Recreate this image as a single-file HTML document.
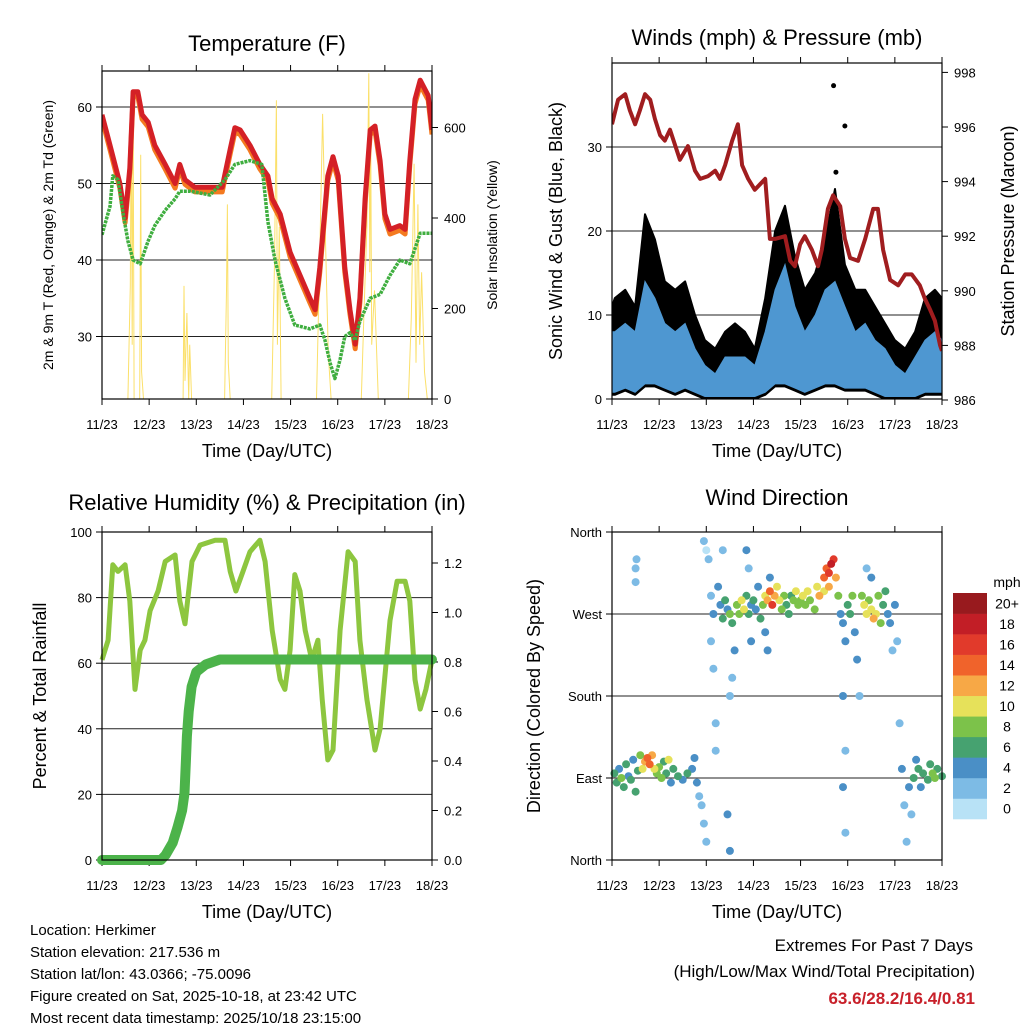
<!DOCTYPE html>
<html><head><meta charset="utf-8"><style>
body{margin:0;background:#fff}
svg{display:block;font-family:"Liberation Sans",sans-serif}
</style></head><body>
<svg id="s" width="1024" height="1024" viewBox="0 0 1024 1024" xmlns="http://www.w3.org/2000/svg">
<rect width="1024" height="1024" fill="#fff"/>
<g id="g"></g>
<g font-size="15" fill="#000">
<text x="30" y="935">Location: Herkimer</text>
<text x="30" y="957">Station elevation: 217.536 m</text>
<text x="30" y="979">Station lat/lon: 43.0366; -75.0096</text>
<text x="30" y="1001">Figure created on Sat, 2025-10-18, at 23:42 UTC</text>
<text x="30" y="1023">Most recent data timestamp: 2025/10/18 23:15:00</text>
</g>
<g font-size="17" text-anchor="end">
<text x="973" y="951">Extremes For Past 7 Days</text>
<text x="975" y="977">(High/Low/Max Wind/Total Precipitation)</text>
<text x="975" y="1004" fill="#c8202a" font-weight="bold">63.6/28.2/16.4/0.81</text>
</g>
</svg>
<script>
// ---- data ----
const dayLabels=["11/23","12/23","13/23","14/23","15/23","16/23","17/23","18/23"];
const tempT=[0,.17,.38,.49,.59,.66,.76,.85,.98,1.12,1.34,1.55,1.65,1.76,1.97,2.29,2.55,2.72,2.82,2.93,3.14,3.35,3.52,3.61,3.78,3.99,4.2,4.41,4.52,4.62,4.79,4.9,5.01,5.15,5.26,5.37,5.47,5.58,5.69,5.79,5.9,6.0,6.11,6.32,6.43,6.53,6.64,6.75,6.92,7.0];
const tempV=[59,55,50,45.5,52,62,62,59,58,55,52.5,50,52.5,50.5,49.5,49.5,49.5,54.5,57.3,57,55,52.5,51,48,46,41,38,35,33.5,39,51,53.5,51,39,33.5,29,35,48,57,57.5,53,46,44,44.5,44,53,61,63.5,61.5,57];
const dewT=[0,.17,.23,.34,.45,.55,.66,.81,.98,1.12,1.34,1.55,1.65,1.87,2.29,2.61,2.82,3.14,3.39,3.52,3.67,3.88,4.09,4.41,4.62,4.73,4.84,4.94,5.05,5.15,5.26,5.37,5.47,5.69,5.9,6.11,6.32,6.53,6.75,7.0];
const dewV=[43.3,47,51,50.5,46,42.5,40,39.5,42.5,44.5,46.5,48,49,49,48.5,50.5,52.5,53,52.5,45,40,35,31.5,31,31.5,29.5,26.5,24.5,27,30,30.5,29.5,32,35,35.5,38,40,39.5,43.5,43.5];
const solT=[0.55,0.6,0.62,0.64,0.66,0.68,0.72,0.8,0.82,0.84,0.88,1.72,1.74,1.76,1.8,1.84,1.86,1.9,2.6,2.64,2.66,2.68,2.72,3.6,3.66,3.7,3.72,3.76,3.8,4.55,4.62,4.68,4.74,4.8,4.86,5.5,5.56,5.62,5.66,5.68,5.7,5.72,5.78,5.86,6.5,6.56,6.62,6.66,6.7,6.74,6.78,6.84,6.9];
const solV=[0,250,640,120,680,0,0,0,540,60,0,0,250,40,190,0,120,0,0,240,430,80,0,0,300,660,120,380,0,0,320,630,350,100,0,0,200,380,720,280,600,120,240,0,0,180,520,80,430,120,280,60,0];
const presT=[0,.13,.28,.38,.49,.59,.7,.81,.91,1.02,1.12,1.23,1.44,1.61,1.76,1.87,2.04,2.19,2.29,2.4,2.55,2.67,2.76,2.89,3.03,3.25,3.35,3.46,3.67,3.78,3.88,3.99,4.09,4.24,4.37,4.45,4.58,4.69,4.84,4.94,5.05,5.22,5.37,5.54,5.64,5.75,5.9,6.07,6.22,6.36,6.53,6.64,6.75,6.85,6.96,7.0];
const presV=[996.1,997,997.2,996.6,996.1,996.6,997.2,997,996.3,995.7,995.5,995.9,994.8,995.3,994.4,994.1,994.2,994.4,994.1,994.6,995.5,996.1,994.6,994.1,993.7,994.1,991.9,991.9,992,991.1,990.9,991.7,992,991.5,990.9,991.5,993,993.5,993.1,991.9,991.2,991.1,991.9,993,993,991.5,990.4,990.2,990.6,990.6,990.2,989.7,989.3,988.9,988,987.8];
const windT=[0,.06,.28,.49,.7,.91,1.12,1.34,1.55,1.76,1.97,2.19,2.4,2.61,2.82,3.03,3.25,3.46,3.67,3.88,4.09,4.31,4.52,4.73,4.94,5.16,5.37,5.58,5.79,6.0,6.22,6.43,6.64,6.85,7.0];
const windLo=[0.5,0.5,1,0.5,1.5,1.5,1,0.5,1,0.5,0,0,0,0,0,0,0.5,1.5,1.5,1,0.5,1,1.5,1.5,1,1,1,0.5,0,0,0,0,0.5,0.5,0.5];
const windHi=[8,8,9,8,14,12,9,8,9,6,4,3,5,5,5,4,8,13,16,11,8,10,13,14,11,8,9,7,6,4,3,5,7,8,7];
const gustHi=[11,12,13,11,22,19,14,13,14,10,7,6,8,9,8,6,12,20,23,17,13,15,19,25,16,13,13,11,9,7,6,8,12,13,12];
const gustOutT=[4.7,4.94,4.75];
const gustOutV=[37.3,32.5,27];
const rhT=[0,.13,.23,.34,.49,.59,.7,.81,.91,1.02,1.19,1.34,1.55,1.65,1.76,1.91,2.08,2.4,2.61,2.72,2.84,2.99,3.14,3.35,3.46,3.61,3.78,3.88,3.99,4.09,4.2,4.31,4.45,4.58,4.67,4.79,4.9,5.05,5.22,5.37,5.47,5.62,5.79,5.9,6.11,6.26,6.43,6.53,6.64,6.75,6.87,7.0];
const rhV=[61,67,90,88,90,79,52,64,67,76,82,91,93,79,72,91,96,97.5,97.5,88,82,88,94,97.5,91,70,55,52,64,87,82,70,61,67,49,30.5,33.5,70,94,91,67,49,33.5,40,73,85,85,79,55,46,52,61];
const prT=[0,1.25,1.35,1.5,1.6,1.7,1.75,1.78,1.8,1.84,1.9,2.0,2.2,2.5,7.0];
const prV=[0,0,0.02,0.07,0.13,0.2,0.27,0.4,0.5,0.6,0.7,0.76,0.79,0.81,0.81];
const dirT=[0.05,0.1,0.15,0.2,0.25,0.3,0.35,0.4,0.45,0.5,0.55,0.6,0.65,0.7,0.75,0.8,0.85,0.9,0.95,1.0,1.05,1.1,1.15,1.2,1.25,1.3,1.4,1.5,1.6,1.7,1.75,1.8,1.85,1.9,1.95,2.0,0.5,0.5,0.52,
1.95,2.0,2.05,2.1,2.15,2.1,2.15,2.2,2.2,2.25,2.3,2.35,2.4,2.45,2.5,2.55,2.5,2.55,2.6,2.65,2.7,2.75,2.8,2.85,2.9,2.95,2.35,2.45,2.5,2.85,2.9,2.95,
3.0,3.05,3.1,3.15,3.2,3.25,3.3,3.35,3.4,3.45,3.5,3.55,3.6,3.65,3.7,3.75,3.8,3.85,3.9,3.95,3.25,3.3,3.35,
4.0,4.05,4.1,4.15,4.2,4.3,4.35,4.4,4.5,4.55,4.6,4.65,4.7,4.75,4.5,4.6,4.8,4.85,4.9,4.95,4.9,4.95,4.9,4.95,
5.0,5.05,5.1,5.15,5.2,5.25,5.3,5.35,5.4,5.45,5.5,5.55,5.6,5.65,5.7,5.75,5.8,5.85,5.9,5.95,5.5,5.4,
6.0,6.05,6.1,6.15,6.2,6.25,6.3,6.4,6.5,6.6,6.7,6.8,6.9,7.0,6.45,6.55,6.35,6.75,6.85];
const dirV=[95,85,100,90,80,105,92,88,110,75,98,115,100,108,112,105,115,100,95,102,90,108,95,110,85,100,92,88,95,100,112,85,70,60,40,20,320,305,330,
350,340,330,290,270,240,210,150,120,300,280,265,285,275,270,260,180,200,230,280,270,285,275,290,270,280,340,50,10,340,320,240,
285,275,300,265,280,290,285,295,280,290,300,285,275,290,280,270,290,285,295,280,250,230,310,
285,290,280,295,285,275,300,290,310,320,315,325,330,310,295,300,290,270,260,240,180,120,80,30,
280,270,290,250,220,180,290,280,270,285,275,265,270,290,260,280,295,270,260,230,310,320,
280,240,150,100,60,20,80,90,100,95,88,95,100,92,110,80,50,105,90];
const dirS=[5,6,4,7,5,6,3,5,4,6,5,7,9,12,14,13,11,10,8,7,7,6,5,9,4,5,6,4,5,3,4,3,1,1,2,1,1,1,1,
1,0,1,2,3,1,1,2,1,4,3,5,6,4,7,5,2,2,3,8,7,10,9,6,5,4,2,3,4,3,2,3,
5,4,3,6,8,10,12,14,15,12,10,9,8,7,6,5,6,8,10,7,4,3,3,
8,9,7,10,8,7,9,11,13,14,16,17,15,12,10,12,8,4,3,4,3,2,3,2,
6,5,7,4,3,2,8,9,10,8,10,12,9,7,8,6,5,4,3,2,3,2,
3,2,2,3,2,1,4,5,6,5,6,7,6,5,4,3,2,6,7];
const cbLabels=["0","2","4","6","8","10","12","14","16","18","20+"];
const cbColors=["#b8e2f6","#7dbbe5","#4a8fc6","#46a270","#7cc24a","#e6e15a","#f7a846","#f0632b","#e13a2b","#c21e26","#981a1e"];

// ---- drawing ----
const NS="http://www.w3.org/2000/svg",G=document.getElementById("g");
function el(tag,attrs,parent,txt){const e=document.createElementNS(NS,tag);for(const k in attrs)e.setAttribute(k,attrs[k]);if(txt!==undefined)e.textContent=txt;(parent||G).appendChild(e);return e;}
function grp(name){const g=el("g",{});


return g;}
function pts(T,V,fx,fy){return T.map((t,i)=>fx(t).toFixed(1)+","+fy(V[i]).toFixed(1)).join(" ");}

function panel(o){
  const g=grp(o.name);
  const fx=d=>o.x0+d*(o.x1-o.x0)/7;
  o.grid.forEach(v=>{const y=o.yL(v);el("line",{x1:o.x0,x2:o.x1,y1:y,y2:y,stroke:"#222","stroke-width":1},g);});
  dayLabels.forEach((l,i)=>{const x=fx(i);
    el("line",{x1:x,x2:x,y1:o.y1,y2:o.y1+6,stroke:"#000"},g);
    el("line",{x1:x,x2:x,y1:o.y0,y2:o.y0-6,stroke:"#000"},g);
    const t=el("text",{x:x,y:o.y1+30,"font-size":13,"text-anchor":"middle"},g,l);
    
    
  });
  o.lt.forEach((v,i)=>{const y=o.yL(v);el("line",{x1:o.x0-6,x2:o.x0,y1:y,y2:y,stroke:"#000"},g);
    el("text",{x:o.x0-10,y:y+5,"font-size":13,"text-anchor":"end"},g,o.ll?o.ll[i]:String(v));});
  if(o.rt)o.rt.forEach(v=>{const y=o.yR(v);el("line",{x1:o.x1,x2:o.x1+6,y1:y,y2:y,stroke:"#000"},g);
    el("text",{x:o.x1+12,y:y+5,"font-size":13},g,o.rf?o.rf(v):String(v));});
  const tt=el("text",{x:(o.x0+o.x1)/2,y:o.ty,"font-size":22,"text-anchor":"middle"},g,o.title);
  
  
  const xt=el("text",{x:(o.x0+o.x1)/2,y:o.y1+58,"font-size":18,"text-anchor":"middle"},g,"Time (Day/UTC)");
  
  
  const cy=(o.y0+o.y1)/2;
  const yt=el("text",{x:o.lx,y:cy,"font-size":o.lfs,"text-anchor":"middle",transform:`rotate(-90 ${o.lx} ${cy})`},g,o.ltitle);
  
  
  if(o.rtitle){const rt=el("text",{x:o.rx,y:cy,"font-size":o.rfs,"text-anchor":"middle",transform:`rotate(-90 ${o.rx} ${cy})`},g,o.rtitle);
    
    }
  const plot=el("g",{},g);
  o.draw(plot,fx);
  el("rect",{x:o.x0,y:o.y0,width:o.x1-o.x0,height:o.y1-o.y0,fill:"none",stroke:"#000","stroke-width":1.2},g);
}

// Temperature
const yT=v=>107+(60-v)*7.65, yS=w=>399-w*0.4525;
panel({name:"temperature-panel",x0:102,x1:432,y0:71,y1:399,yL:yT,yR:yS,grid:[30,40,50,60],lt:[30,40,50,60],rt:[0,200,400,600],
 title:"Temperature (F)",ty:51,lx:53,lfs:14,ltitle:"2m & 9m T (Red, Orange) & 2m Td (Green)",rx:497,rfs:14,rtitle:"Solar Insolation (Yellow)",
 draw:(p,fx)=>{
  const cp=el("clipPath",{id:"c1"},p);el("rect",{x:102,y:71,width:330,height:328},cp);
  const q=el("g",{"clip-path":"url(#c1)"},p);
  const s=el("polyline",{points:pts(solT,solV,fx,yS),fill:"none",stroke:"#fbe06a","stroke-width":1},q);
  
  const o9=el("polyline",{points:pts(tempT,tempV.map(v=>v-0.6),fx,yT),fill:"none",stroke:"#f47a20","stroke-width":5,"stroke-linejoin":"round"},q);
  
  const r=el("polyline",{points:pts(tempT,tempV,fx,yT),fill:"none",stroke:"#d42026","stroke-width":5,"stroke-linejoin":"round"},q);
  
  const d=el("polyline",{points:pts(dewT,dewV,fx,yT),fill:"none",stroke:"#3fae3f","stroke-width":3.5,"stroke-dasharray":"3 1","stroke-linejoin":"round"},q);
  
 }});

// Winds
const yW=v=>399-v*8.4, yP=p=>400-(p-986)*27.3;
panel({name:"winds-panel",x0:612,x1:942,y0:63,y1:399,yL:yW,yR:yP,grid:[10,20,30],lt:[0,10,20,30],rt:[986,988,990,992,994,996,998],
 title:"Winds (mph) & Pressure (mb)",ty:45,lx:562,lfs:18,ltitle:"Sonic Wind & Gust (Blue, Black)",rx:1014,rfs:18,rtitle:"Station Pressure (Maroon)",
 draw:(p,fx)=>{
  const cp=el("clipPath",{id:"c2"},p);el("rect",{x:612,y:63,width:330,height:336},cp);
  const q=el("g",{"clip-path":"url(#c2)"},p);
  const band=(lo,hi)=>windT.map((t,i)=>fx(t).toFixed(1)+","+yW(hi[i]).toFixed(1)).join(" ")+" "+windT.slice().reverse().map((t,j)=>{const i=windT.length-1-j;return fx(t).toFixed(1)+","+yW(lo[i]).toFixed(1);}).join(" ");
  const gb=el("polygon",{points:band(windLo,gustHi),fill:"#000",stroke:"#000","stroke-width":2,"stroke-linejoin":"round"},q);
  
  const wb=el("polygon",{points:band(windLo.map(v=>v+0.3),windHi),fill:"#4e97d1",stroke:"#4e97d1","stroke-width":1},q);
  
  gustOutT.forEach((t,i)=>{const c=el("circle",{cx:fx(t),cy:yW(gustOutV[i]),r:2.5,fill:"#000"},q);
    });
  const pl=el("polyline",{points:pts(presT,presV,fx,yP),fill:"none",stroke:"#a01d1f","stroke-width":4,"stroke-linejoin":"round"},q);
  
 }});

// RH
const yR=v=>860-v*3.28, yPr=v=>860-v*247.5;
panel({name:"humidity-panel",x0:102,x1:432,y0:532,y1:860,yL:yR,yR:yPr,grid:[20,40,60,80],lt:[0,20,40,60,80,100],rt:[0,0.2,0.4,0.6,0.8,1.0,1.2],rf:v=>v.toFixed(1),
 title:"Relative Humidity (%) & Precipitation (in)",ty:510,lx:46,lfs:18,ltitle:"Percent & Total Rainfall",
 draw:(p,fx)=>{
  const rh=el("polyline",{points:pts(rhT,rhV,fx,yR),fill:"none",stroke:"#8dc63f","stroke-width":5,"stroke-linejoin":"round"},p);
  
  const pr=el("polyline",{points:pts(prT,prV,fx,yPr),fill:"none",stroke:"#4cb34a","stroke-width":10,"stroke-linejoin":"round","stroke-linecap":"round"},p);
  
 }});

// Wind direction
const yD=d=>860-d*328/360;
const colorFor=s=>cbColors[Math.min(10,Math.max(0,Math.round(s/2)))];
panel({name:"wind-direction-panel",x0:612,x1:942,y0:532,y1:860,yL:yD,grid:[90,180,270],lt:[0,90,180,270,360],ll:["North","East","South","West","North"],
 title:"Wind Direction",ty:505,lx:540,lfs:18,ltitle:"Direction (Colored By Speed)",
 draw:(p,fx)=>{
  const order=dirT.map((_,i)=>i).sort((a,b)=>dirS[a]-dirS[b]);
  order.forEach(i=>{const c=el("circle",{cx:fx(dirT[i]).toFixed(1),cy:yD(dirV[i]).toFixed(1),r:4,fill:colorFor(dirS[i])},p);
    });
 }});

// colorbar
const cb=grp("speed-colorbar");
const bh=(819-593)/11;
cbColors.forEach((c,i)=>{const y=819-(i+1)*bh;
  const r=el("rect",{x:953,y:y,width:34,height:bh+0.3,fill:c},cb);
  
  el("text",{x:1007,y:y+bh/2+5,"font-size":14,"text-anchor":"middle"},cb,cbLabels[i]);});
el("text",{x:1007,y:587,"font-size":14,"text-anchor":"middle"},cb,"mph");
</script>
</body></html>
